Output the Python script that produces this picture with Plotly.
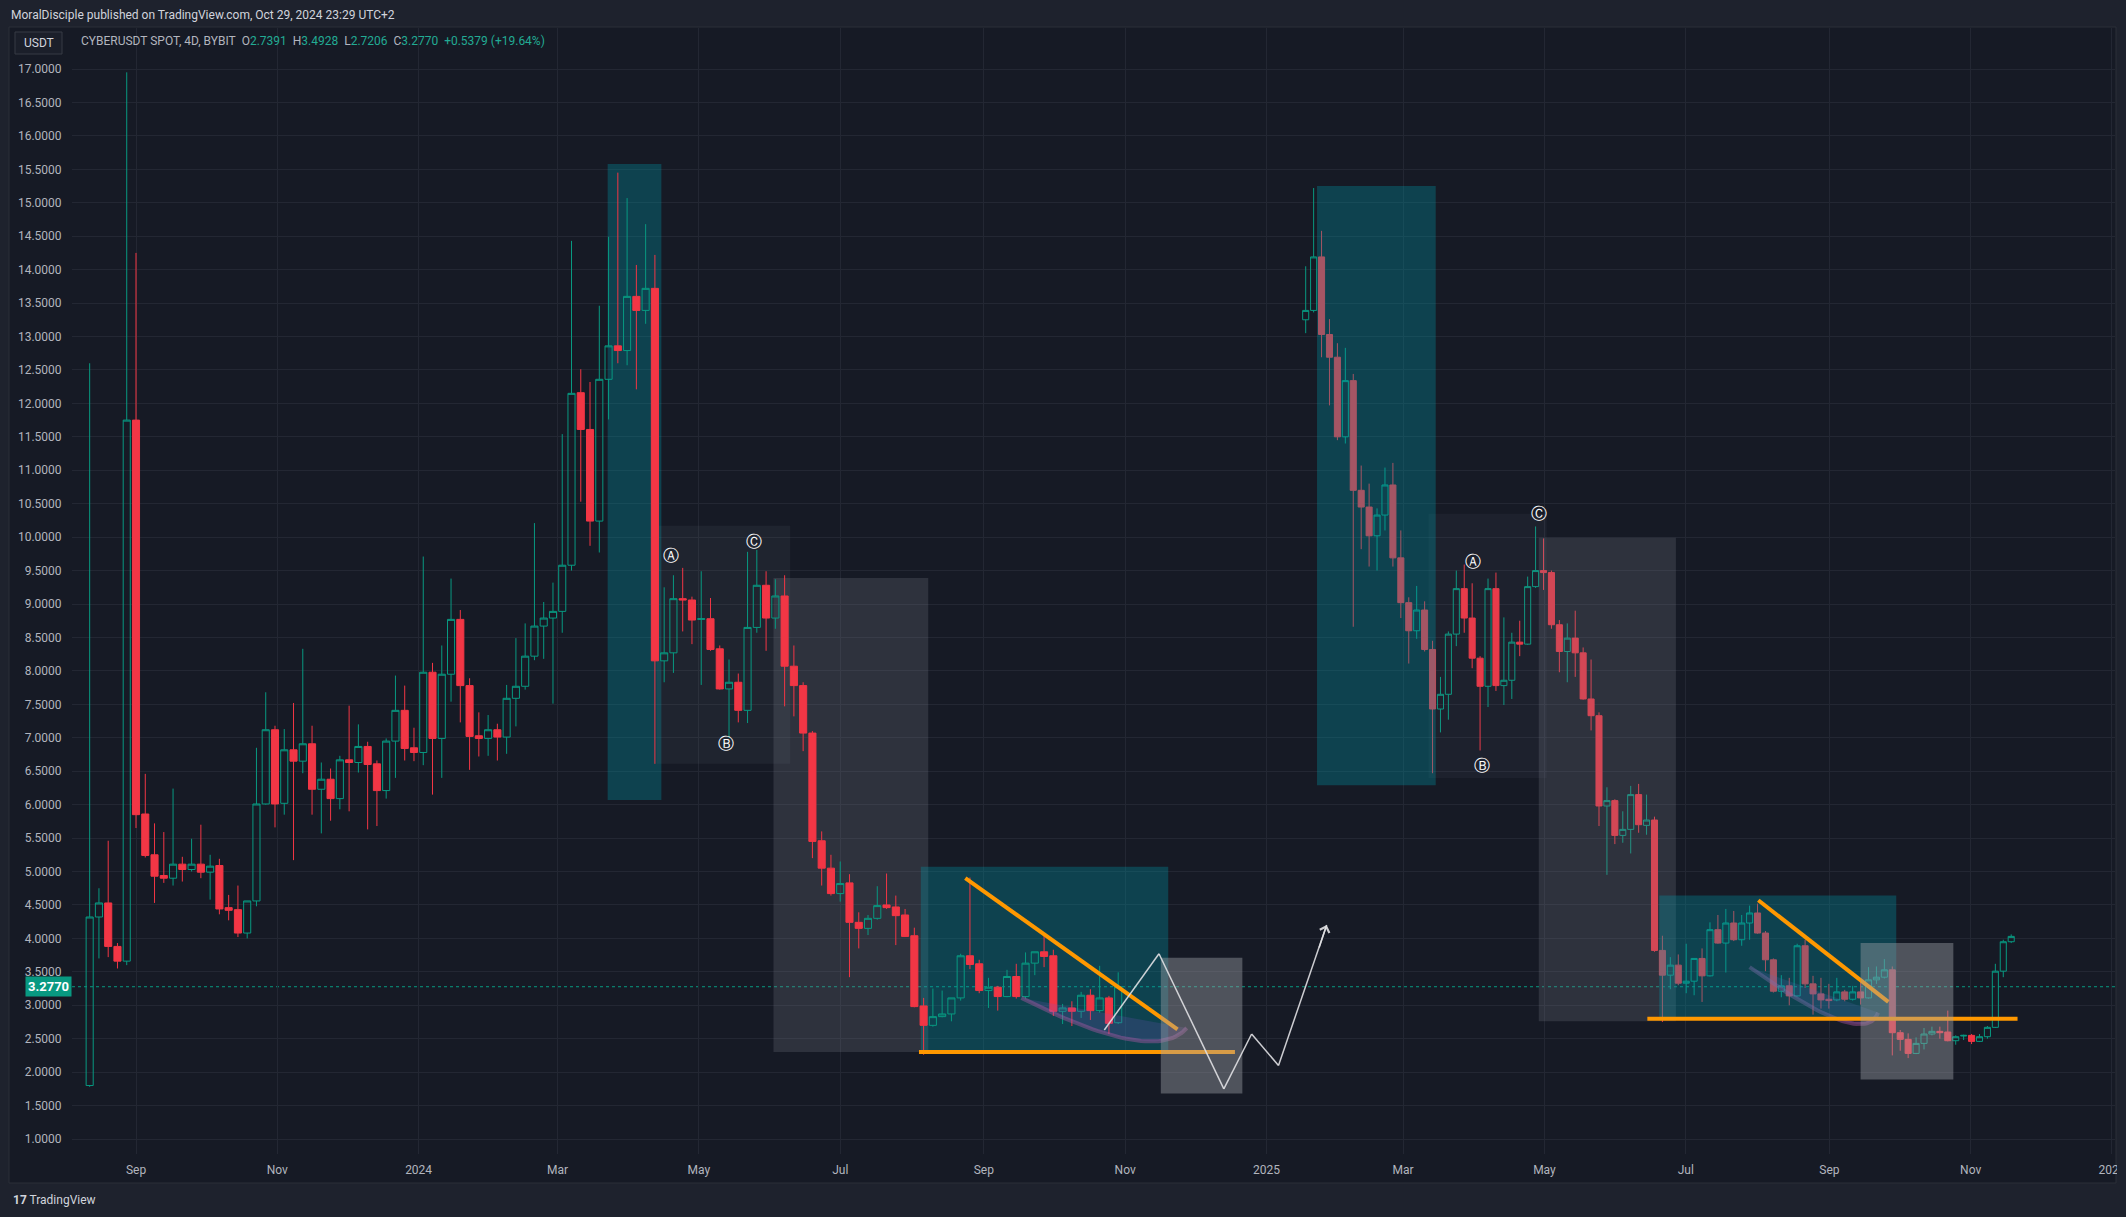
import plotly.graph_objects as go
import pandas as pd

# ---------------- data ----------------
left_start = "2023-08-12"      # first 4D bar of the main chart
bar_days = 4

left_open = [1.80, 4.32, 4.53, 3.88, 3.66, 11.75, 5.86, 5.25, 4.94, 4.90,
             5.11, 5.03, 5.11, 4.99, 5.09, 4.46, 4.43, 4.08, 4.56, 6.01,
             7.12, 6.02, 6.82, 6.65, 6.91, 6.23, 6.38, 6.09, 6.67, 6.63,
             6.87, 6.61, 6.21, 6.95, 7.41, 6.85, 6.78, 7.98, 6.99, 7.95,
             8.77, 7.78, 7.03, 6.99, 7.12, 7.01, 7.59, 7.77, 8.22, 8.67,
             8.79, 8.89, 9.58, 12.16, 11.61, 10.24, 12.36, 12.86, 12.79, 13.60,
             13.39, 13.72, 8.15, 8.27, 9.08, 9.06, 8.77, 8.78, 8.33, 7.73,
             7.83, 7.41, 8.65, 9.28, 8.79, 9.12, 8.07, 7.78, 7.07, 5.46,
             5.05, 4.67, 4.83, 4.24, 4.15, 4.30, 4.50, 4.47, 4.35, 4.04,
             2.99, 2.70, 2.83, 2.87, 3.11, 3.74, 3.62, 3.22, 3.27, 3.13,
             3.43, 3.13, 3.63, 3.80, 3.74, 2.91, 2.96, 2.91, 3.15, 2.92,
             3.11, 2.7391]
left_high = [12.60, 4.75, 5.46, 3.93, 16.95, 14.25, 6.46, 5.72, 5.59, 6.24,
             5.22, 5.49, 5.70, 5.25, 5.19, 4.65, 4.79, 4.56, 6.85, 7.68,
             7.18, 7.13, 7.52, 8.33, 7.18, 6.63, 6.54, 6.73, 7.48, 7.20,
             6.94, 6.66, 6.99, 7.93, 7.78, 7.15, 9.71, 8.12, 8.38, 9.38,
             8.91, 7.89, 7.38, 7.34, 7.21, 7.79, 8.49, 8.71, 10.21, 9.03,
             9.32, 11.54, 14.43, 12.51, 12.32, 13.46, 14.49, 15.45, 15.07, 14.07,
             14.68, 14.22, 9.25, 9.43, 9.54, 9.11, 9.49, 9.09, 8.38, 8.17,
             7.96, 9.78, 9.81, 9.49, 9.37, 9.43, 8.38, 7.83, 7.10, 5.60,
             5.25, 5.15, 4.96, 4.39, 4.35, 4.78, 4.97, 4.64, 4.44, 4.16,
             3.11, 3.25, 3.22, 3.11, 3.77, 4.91, 3.68, 3.41, 3.29, 3.53,
             3.62, 3.79, 3.80, 4.08, 3.83, 3.02, 3.06, 3.20, 3.24, 3.59,
             3.14, 3.4928]
left_low = [1.78, 3.70, 3.72, 3.55, 3.60, 5.65, 5.21, 4.53, 4.83, 4.79,
            4.85, 5.00, 4.90, 4.58, 4.36, 4.27, 4.02, 4.00, 4.48, 6.00,
            5.66, 5.85, 5.17, 6.47, 5.85, 5.57, 5.76, 5.93, 5.90, 6.48,
            5.63, 5.68, 6.09, 6.40, 6.66, 6.65, 6.59, 6.15, 6.40, 7.54,
            7.23, 6.52, 6.72, 6.73, 6.66, 6.76, 7.17, 7.72, 8.16, 8.18,
            7.51, 8.57, 9.50, 10.53, 9.87, 9.77, 11.76, 12.60, 12.57, 12.21,
            13.19, 6.61, 7.83, 7.97, 8.59, 8.40, 7.79, 8.30, 7.72, 7.00,
            7.23, 7.22, 8.57, 8.30, 8.63, 7.47, 7.32, 6.80, 5.20, 4.79,
            4.64, 4.55, 3.42, 3.85, 4.05, 4.28, 4.44, 3.90, 4.02, 2.97,
            2.26, 2.68, 2.82, 2.76, 3.07, 3.54, 3.18, 2.96, 2.92, 3.12,
            3.10, 3.10, 3.45, 3.57, 2.84, 2.72, 2.69, 2.81, 2.78, 2.89,
            2.57, 2.7206]
left_close = [4.32, 4.53, 3.88, 3.66, 11.75, 5.85, 5.24, 4.93, 4.90, 5.11,
              5.03, 5.11, 4.99, 5.08, 4.44, 4.42, 4.08, 4.56, 6.01, 7.12,
              6.01, 6.82, 6.65, 6.91, 6.23, 6.38, 6.09, 6.67, 6.63, 6.87,
              6.60, 6.21, 6.95, 7.41, 6.84, 6.78, 7.98, 6.99, 7.95, 8.77,
              7.78, 7.02, 6.99, 7.12, 7.01, 7.59, 7.77, 8.22, 8.67, 8.79,
              8.89, 9.58, 12.15, 11.61, 10.24, 12.36, 12.86, 12.79, 13.60, 13.39,
              13.72, 8.15, 8.27, 9.08, 9.06, 8.76, 8.78, 8.32, 7.73, 7.83,
              7.41, 8.65, 9.28, 8.79, 9.12, 8.07, 7.78, 7.07, 5.45, 5.05,
              4.67, 4.82, 4.24, 4.15, 4.30, 4.49, 4.46, 4.34, 4.03, 2.98,
              2.70, 2.83, 2.87, 3.11, 3.74, 3.61, 3.22, 3.27, 3.13, 3.43,
              3.13, 3.63, 3.80, 3.73, 2.91, 2.96, 2.91, 3.15, 2.92, 3.11,
              2.73, 3.2770]

# pasted snapshot on the right (own bar spacing, indexed by bar number)
right_open = [13.25, 13.39, 14.19, 13.03, 12.69, 11.50, 12.34, 10.70, 10.45, 10.02,
              10.33, 10.78, 9.69, 9.02, 8.60, 8.91, 8.32, 7.43, 7.65, 8.55,
              9.23, 8.79, 8.19, 7.77, 9.23, 7.78, 7.86, 8.43, 8.40, 9.26,
              9.50, 9.47, 8.69, 8.29, 8.49, 8.27, 7.58, 7.33, 5.98, 6.06,
              5.54, 5.63, 6.15, 5.69, 5.77, 3.82, 3.45, 3.60, 3.33, 3.36,
              3.70, 3.44, 4.13, 3.93, 4.23, 3.98, 4.23, 4.38, 4.08, 3.68,
              3.21, 3.29, 3.14, 3.89, 3.32, 3.17, 3.09, 3.08, 3.20, 3.09,
              3.20, 3.11, 3.38, 3.42, 3.53, 2.59, 2.49, 2.28, 2.43, 2.57,
              2.61, 2.60, 2.47, 2.54, 2.55, 2.46, 2.53, 2.67, 3.51, 3.95]
right_high = [14.05, 15.22, 14.58, 13.26, 12.90, 12.83, 12.44, 11.07, 10.80, 10.43,
              11.04, 11.11, 10.10, 9.10, 9.27, 9.04, 8.45, 7.91, 8.59, 9.50,
              9.59, 9.31, 8.22, 9.38, 9.47, 8.80, 8.57, 8.75, 9.41, 10.16,
              9.98, 9.50, 8.76, 8.71, 8.90, 8.35, 8.17, 7.38, 6.26, 6.08,
              5.90, 6.28, 6.31, 6.15, 5.82, 4.04, 3.72, 3.76, 3.92, 3.70,
              3.85, 4.24, 4.35, 4.44, 4.41, 4.35, 4.49, 4.52, 4.11, 3.70,
              3.45, 3.41, 3.92, 3.98, 3.44, 3.41, 3.32, 3.41, 3.23, 3.29,
              3.35, 3.57, 3.58, 3.69, 3.58, 2.63, 2.58, 2.52, 2.66, 2.68,
              2.68, 2.92, 2.55, 2.56, 2.57, 2.57, 2.69, 3.62, 3.98, 4.06]
right_low = [13.05, 13.36, 12.69, 11.97, 11.45, 11.40, 8.66, 9.82, 9.56, 9.50,
             10.10, 9.56, 8.79, 8.11, 8.48, 8.29, 6.47, 7.08, 7.27, 8.37,
             8.57, 8.04, 6.81, 7.46, 7.70, 7.49, 7.58, 8.22, 8.39, 9.24,
             9.21, 8.63, 7.98, 7.83, 7.91, 7.57, 7.11, 5.68, 4.95, 5.41,
             5.43, 5.27, 5.58, 5.55, 3.80, 2.75, 3.24, 3.30, 3.18, 3.15,
             3.05, 3.43, 3.92, 3.49, 3.96, 3.89, 3.98, 4.07, 3.51, 3.19,
             3.12, 3.00, 3.13, 3.26, 2.86, 2.95, 2.95, 3.06, 3.06, 3.07,
             3.01, 3.10, 3.32, 3.40, 2.25, 2.32, 2.21, 2.27, 2.34, 2.55,
             2.50, 2.46, 2.41, 2.48, 2.42, 2.45, 2.50, 2.66, 3.42, 3.93]
right_close = [13.39, 14.19, 13.03, 12.69, 11.50, 12.34, 10.70, 10.45, 10.02, 10.33,
               10.78, 9.69, 9.02, 8.60, 8.91, 8.32, 7.43, 7.65, 8.55, 9.23,
               8.79, 8.19, 7.77, 9.23, 7.78, 7.86, 8.43, 8.40, 9.26, 9.50,
               9.47, 8.69, 8.29, 8.49, 8.27, 7.58, 7.33, 5.98, 6.06, 5.54,
               5.63, 6.15, 5.70, 5.77, 3.82, 3.45, 3.60, 3.33, 3.36, 3.70,
               3.44, 4.13, 3.93, 4.23, 3.98, 4.23, 4.38, 4.08, 3.68, 3.21,
               3.29, 3.14, 3.89, 3.32, 3.17, 3.08, 3.07, 3.20, 3.09, 3.20,
               3.11, 3.38, 3.42, 3.53, 2.59, 2.49, 2.28, 2.43, 2.57, 2.61,
               2.59, 2.47, 2.53, 2.55, 2.46, 2.53, 2.67, 3.51, 3.95, 4.03]

y_tick_vals = [1.0, 1.5, 2.0, 2.5, 3.0, 3.5, 4.0, 4.5, 5.0, 5.5, 6.0, 6.5, 7.0,
               7.5, 8.0, 8.5, 9.0, 9.5, 10.0, 10.5, 11.0, 11.5, 12.0, 12.5, 13.0,
               13.5, 14.0, 14.5, 15.0, 15.5, 16.0, 16.5, 17.0]
x_tick_vals = ["2023-09-01", "2023-11-01", "2024-01-01", "2024-03-01", "2024-05-01",
               "2024-07-01", "2024-09-01", "2024-11-01", "2025-01-01", "2025-03-01",
               "2025-05-01", "2025-07-01", "2025-09-01", "2025-11-01", "2026-01-01"]
x_tick_text = ["Sep", "Nov", "2024", "Mar", "May", "Jul", "Sep", "Nov", "2025",
               "Mar", "May", "Jul", "Sep", "Nov", "2026"]

header_text = "MoralDisciple published on TradingView.com, Oct 29, 2024 23:29 UTC+2"
symbol_text = "CYBERUSDT SPOT, 4D, BYBIT"
last_ohlc = [("O", "2.7391"), ("H", "3.4928"), ("L", "2.7206"), ("C", "3.2770")]
last_change = "+0.5379 (+19.64%)"
last_price = 3.2770
quote_ccy = "USDT"

# ---------------- styling / geometry ----------------
W, H = 2126, 1217
PL, PR, PT, PB = 72, 2115, 28, 1154
Y_RANGE = [0.776, 17.613]
DATUM = pd.Timestamp("2023-09-01")
DATUM_PX, PX_PER_DAY = 136.0, 2.3165
R_FIRST_PX, R_STEP_PX = 1305.7, 7.927

OUTER = "#1e222d"
PANE = "#161a25"
GRID = "#232733"
TXT = "#b2b5be"
GREEN = "#089981"
RED = "#f23645"
ORANGE = "#ff9800"
TEAL_BOX = "rgba(0,151,167,0.32)"
GRAY_SOFT = "rgba(120,123,134,0.10)"
GRAY_MID = "rgba(120,123,134,0.25)"
GRAY_LIGHT = "rgba(160,163,170,0.42)"
ZIG = "rgba(225,225,228,0.9)"
FONT = "Roboto, 'Open Sans', sans-serif"


def bt(i):
    """fractional bar index of the main chart -> timestamp string"""
    ts = pd.Timestamp(left_start) + pd.Timedelta(days=bar_days * i)
    return ts.strftime("%Y-%m-%d %H:%M:%S")


def px_x(px):
    return (px - PL) / (PR - PL)


def px_y(py):
    return (PB - py) / (PB - PT)


x_range = [(DATUM + pd.Timedelta(days=(PL - DATUM_PX) / PX_PER_DAY)).round("s").strftime("%Y-%m-%d %H:%M:%S"),
           (DATUM + pd.Timedelta(days=(PR - DATUM_PX) / PX_PER_DAY)).round("s").strftime("%Y-%m-%d %H:%M:%S")]
x2_range = [(PL - R_FIRST_PX) / R_STEP_PX, (PR - R_FIRST_PX) / R_STEP_PX]

left_dates = [bt(i) for i in range(len(left_open))]
right_idx = list(range(len(right_open)))


def bezier(p0, pm, p2, n=40):
    c = (2 * pm[0] - (p0[0] + p2[0]) / 2, 2 * pm[1] - (p0[1] + p2[1]) / 2)
    xs, ys = [], []
    for k in range(n + 1):
        t = k / n
        xs.append((1 - t) ** 2 * p0[0] + 2 * (1 - t) * t * c[0] + t * t * p2[0])
        ys.append((1 - t) ** 2 * p0[1] + 2 * (1 - t) * t * c[1] + t * t * p2[1])
    return xs, ys


fig = go.Figure()

ARC_FILL = "rgba(126,87,194,0.20)"
ARC_LINE = "rgba(186,90,170,0.40)"

# purple arc (left) under candles
ax_l, ay_l = bezier((100.55, 3.11), (112.2, 2.49), (118.4, 2.66))
fig.add_trace(go.Scatter(x=[bt(v) for v in ax_l] + [bt(ax_l[0])], y=ay_l + [ay_l[0]],
                         fill="toself", fillcolor=ARC_FILL,
                         line=dict(width=0), mode="lines", hoverinfo="skip"))
fig.add_trace(go.Scatter(x=[bt(v) for v in ax_l], y=ay_l, mode="lines",
                         line=dict(color=ARC_LINE, width=4), hoverinfo="skip"))

candle_style = dict(
    increasing=dict(line=dict(color=GREEN, width=1), fillcolor="rgba(0,0,0,0)"),
    decreasing=dict(line=dict(color=RED, width=1), fillcolor=RED),
    whiskerwidth=0, hoverinfo="skip", showlegend=False,
)
fig.add_trace(go.Candlestick(x=left_dates, open=left_open, high=left_high,
                             low=left_low, close=left_close, **candle_style))
fig.add_trace(go.Candlestick(x=right_idx, open=right_open, high=right_high,
                             low=right_low, close=right_close, xaxis="x2", **candle_style))

# purple arc (right snapshot)
ax_r, ay_r = bezier((56.0, 3.57), (67.3, 2.78), (72.2, 2.89))
fig.add_trace(go.Scatter(x=ax_r + [ax_r[0]], y=ay_r + [ay_r[0]], xaxis="x2",
                         fill="toself", fillcolor=ARC_FILL,
                         line=dict(width=0), mode="lines", hoverinfo="skip"))
fig.add_trace(go.Scatter(x=ax_r, y=ay_r, xaxis="x2", mode="lines",
                         line=dict(color=ARC_LINE, width=4), hoverinfo="skip"))

shapes = []
# pane background + border
shapes.append(dict(type="rect", xref="paper", yref="paper", x0=px_x(9), x1=px_x(2116),
                   y0=px_y(1183), y1=px_y(27), fillcolor=PANE,
                   line=dict(color="#2a2e39", width=1), layer="below"))
# USDT box
shapes.append(dict(type="rect", xref="paper", yref="paper", x0=px_x(15), x1=px_x(62),
                   y0=px_y(54), y1=px_y(32), fillcolor="#1b1f2a",
                   line=dict(color="#363a45", width=1), layer="above"))


def lbox(b0, b1, p0, p1, fill, layer="between"):
    return dict(type="rect", xref="x", yref="y", x0=bt(b0), x1=bt(b1), y0=p0, y1=p1,
                fillcolor=fill, line=dict(width=0), layer=layer)


def rbox(b0, b1, p0, p1, fill, layer="above"):
    return dict(type="rect", xref="x2", yref="y", x0=b0, x1=b1, y0=p0, y1=p1,
                fillcolor=fill, line=dict(width=0), layer=layer)


# left chart boxes (behind candles)
shapes += [
    lbox(55.9, 61.7, 6.07, 15.58, TEAL_BOX),
    lbox(61.2, 75.6, 6.61, 10.17, GRAY_SOFT),
    lbox(73.8, 90.5, 2.30, 9.39, GRAY_MID),
    lbox(89.7, 116.4, 2.29, 5.07, TEAL_BOX),
]
# price line
shapes.append(dict(type="line", xref="paper", yref="y", x0=0, x1=1, y0=last_price,
                   y1=last_price, line=dict(color=GREEN, width=1, dash="dot"), layer="between"))
# right snapshot boxes (drawn over its candles)
shapes += [
    rbox(15.5, 30.4, 6.40, 10.35, "rgba(120,123,134,0.08)"),
    rbox(1.43, 16.4, 6.29, 15.25, TEAL_BOX),
    rbox(29.4, 46.7, 2.76, 9.99, GRAY_MID),
    rbox(44.6, 74.5, 2.78, 4.64, TEAL_BOX),
]
# orange trend lines
shapes += [
    dict(type="line", xref="x", yref="y", x0=bt(89.5), x1=bt(123.6), y0=2.30, y1=2.30,
         line=dict(color=ORANGE, width=4), layer="above"),
    dict(type="line", xref="x", yref="y", x0=bt(94.5), x1=bt(117.4), y0=4.90, y1=2.64,
         line=dict(color=ORANGE, width=4), layer="above"),
    dict(type="line", xref="x2", yref="y", x0=43.1, x1=89.8, y0=2.80, y1=2.80,
         line=dict(color=ORANGE, width=4), layer="above"),
    dict(type="line", xref="x2", yref="y", x0=57.1, x1=73.5, y0=4.57, y1=3.05,
         line=dict(color=ORANGE, width=4), layer="above"),
]
# light grey target boxes
shapes += [
    lbox(115.6, 124.4, 1.68, 3.71, GRAY_LIGHT, layer="above"),
    rbox(70.0, 81.7, 1.89, 3.93, GRAY_LIGHT),
]
# white zig-zag projection
zig = [(109.5, 2.63), (115.4, 3.77), (122.4, 1.75), (125.4, 2.57), (128.3, 2.10), (133.5, 4.20)]
for (b0, p0), (b1, p1) in zip(zig[:-1], zig[1:]):
    shapes.append(dict(type="line", xref="x", yref="y", x0=bt(b0), x1=bt(b1), y0=p0, y1=p1,
                       line=dict(color=ZIG, width=1.5), layer="above"))
# mask: pane edge clips the last date label as in the original
shapes.append(dict(type="rect", xref="paper", yref="paper", x0=px_x(2117), x1=px_x(2130),
                   y0=px_y(1217), y1=px_y(0), fillcolor=OUTER, line=dict(width=0), layer="above"))

annotations = []
annotations.append(dict(x=bt(zig[-1][0]), y=zig[-1][1], xref="x", yref="y", text="",
                        showarrow=True, ax=-8, ay=24, arrowhead=4, arrowsize=1.3,
                        arrowwidth=1.5, arrowcolor=ZIG))
for txt, b, p in [("\u24b6", 62.7, 9.73), ("\u24b7", 68.7, 6.91), ("\u24b8", 71.7, 9.94)]:
    annotations.append(dict(x=bt(b), y=p, xref="x", yref="y", text=txt, showarrow=False,
                            font=dict(family="DejaVu Sans", size=16, color="#ffffff")))
for txt, b, p in [("\u24b6", 21.1, 9.64), ("\u24b7", 22.3, 6.58), ("\u24b8", 29.4, 10.35)]:
    annotations.append(dict(x=b, y=p, xref="x2", yref="y", text=txt, showarrow=False,
                            font=dict(family="DejaVu Sans", size=16, color="#ffffff")))

annotations.append(dict(x=px_x(9), y=px_y(15), xref="paper", yref="paper", text=header_text,
                        xanchor="left", yanchor="middle", showarrow=False,
                        font=dict(family=FONT, size=12, color="#d1d4dc")))
nb = "\u00a0"
legend = symbol_text + nb * 2 + (nb * 2).join(
    f'{k}<span style="color:#22ab94">{v}</span>' for k, v in last_ohlc) + \
    nb * 2 + f'<span style="color:#22ab94">{last_change}</span>'
annotations.append(dict(x=px_x(79), y=px_y(41), xref="paper", yref="paper", text=legend,
                        xanchor="left", yanchor="middle", showarrow=False,
                        font=dict(family=FONT, size=12, color=TXT)))
annotations.append(dict(x=px_x(38.5), y=px_y(43), xref="paper", yref="paper", text=quote_ccy,
                        xanchor="center", yanchor="middle", showarrow=False,
                        font=dict(family=FONT, size=12, color="#d1d4dc")))
annotations.append(dict(x=px_x(72), y=last_price, xref="paper", yref="y",
                        text=f"<b>{last_price:.4f}</b>", xanchor="right", yanchor="middle",
                        showarrow=False, bgcolor=GREEN, borderpad=2,
                        font=dict(family=FONT, size=13, color="#ffffff")))
annotations.append(dict(x=px_x(11), y=px_y(1200), xref="paper", yref="paper",
                        text="<b>17</b> TradingView", xanchor="left", yanchor="middle",
                        showarrow=False, font=dict(family=FONT, size=12, color="#d1d4dc")))

fig.update_layout(
    width=W, height=H,
    margin=dict(l=PL, r=W - PR, t=PT, b=H - PB, pad=0, autoexpand=False),
    paper_bgcolor=OUTER, plot_bgcolor=PANE,
    showlegend=False, hovermode=False,
    boxgap=0.1, boxgroupgap=0.15,
    shapes=shapes, annotations=annotations,
    xaxis=dict(type="date", range=x_range, tickvals=x_tick_vals, ticktext=x_tick_text,
               showgrid=True, gridcolor=GRID, gridwidth=1, zeroline=False, showline=False,
               ticks="outside", ticklen=5, tickcolor="rgba(0,0,0,0)", automargin=False,
               tickfont=dict(family=FONT, size=12, color=TXT),
               rangeslider=dict(visible=False), fixedrange=True),
    xaxis2=dict(overlaying="x", anchor="y", range=x2_range, visible=False, automargin=False,
                rangeslider=dict(visible=False), fixedrange=True),
    yaxis=dict(range=Y_RANGE, tickvals=y_tick_vals, tickformat=".4f", showgrid=True,
               gridcolor=GRID, gridwidth=1, zeroline=False, showline=False,
               ticks="outside", ticklen=7, tickcolor="rgba(0,0,0,0)", automargin=False,
               tickfont=dict(family=FONT, size=12, color=TXT),
               fixedrange=True),
)

fig.write_html(
    "out.html",
    config={"displayModeBar": False},
    post_script="document.body.style.margin='0';document.body.style.background='#1e222d';"
                "document.body.style.overflow='hidden';",
)
